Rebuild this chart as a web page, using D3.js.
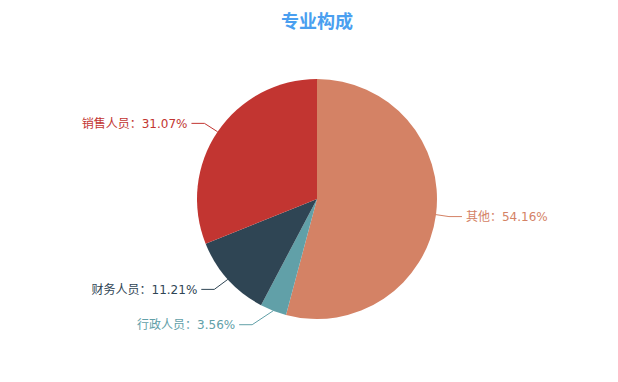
<!DOCTYPE html>
<html lang="zh">
<head>
<meta charset="UTF-8">
<script src="https://cdn.jsdelivr.net/npm/d3@7"></script>
<style>
  body { margin: 0; background: #fff; }
  text { font-family: "DejaVu Sans", "Noto Sans CJK SC", sans-serif; }
</style>
</head>
<body>
<div id="chart"></div>
<script>
  // datos del gráfico
  const categories = ["其他", "行政人员", "财务人员", "销售人员"];
  const values = [54.16, 3.56, 11.21, 31.07];
  const colors = ["#d48265", "#61a0a8", "#2f4554", "#c23531"];

  const W = 618, H = 382;
  const cx = 317, cy = 199, r = 120;
  const len = 15, len2 = 15;

  const svg = d3.select("#chart").append("svg")
    .attr("width", W).attr("height", H);

  svg.append("text")
    .attr("x", cx).attr("y", 28)
    .attr("text-anchor", "middle")
    .attr("fill", "#4a9ff0")
    .style("font-family", "'Noto Sans CJK SC', sans-serif")
    .style("font-size", "18px")
    .style("font-weight", "bold")
    .text("专业构成");

  const data = categories.map((c, i) => ({ name: c, value: values[i], color: colors[i] }));
  const pie = d3.pie().sort(null).value(d => d.value);
  const arc = d3.arc().innerRadius(0).outerRadius(r);

  const g = svg.append("g").attr("transform", `translate(${cx},${cy})`);
  const arcs = pie(data);

  g.selectAll("path")
    .data(arcs)
    .enter()
    .append("path")
      .attr("d", arc)
      .attr("fill", d => d.data.color);

  // etiquetas con líneas guía
  arcs.forEach(d => {
    const a = (d.startAngle + d.endAngle) / 2;
    const sx = Math.sin(a), sy = -Math.cos(a);
    const dir = sx >= 0 ? 1 : -1;
    const p1 = [sx * r, sy * r];
    const ly = sy * (r + len);
    const dx = Math.sqrt(Math.max(0, (r + len + len2) ** 2 - ly * ly));
    const textX = dir * dx;
    const endX = textX - dir * 4;
    const bendX = endX - dir * 13;
    g.append("polyline")
      .attr("points", [p1, [bendX, ly], [endX, ly]].map(p => p.join(",")).join(" "))
      .attr("fill", "none")
      .attr("stroke", d.data.color)
      .attr("stroke-width", 1);
    g.append("text")
      .attr("x", textX)
      .attr("y", ly)
      .attr("dy", "0.35em")
      .attr("text-anchor", dir > 0 ? "start" : "end")
      .attr("fill", d.data.color)
      .style("font-size", "12px")
      .text(`${d.data.name}：${d.data.value.toFixed(2)}%`);
  });
</script>
</body>
</html>
